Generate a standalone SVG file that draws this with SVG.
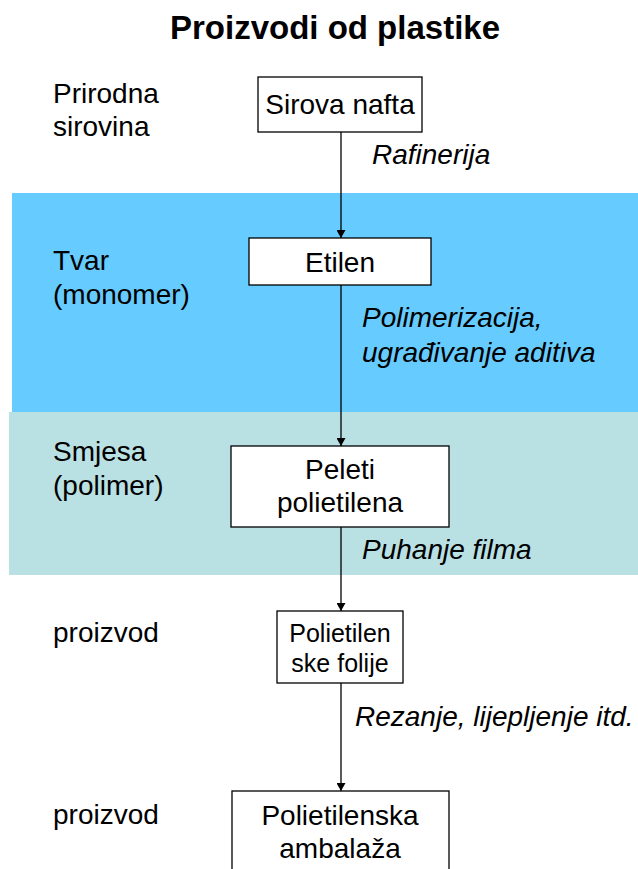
<svg xmlns="http://www.w3.org/2000/svg" width="638" height="869" viewBox="0 0 638 869">
<style>
text{font-family:"Liberation Sans",Arial,sans-serif;fill:#000}
.t{font-size:33px;font-weight:bold}
.l{font-size:28px}
.b{font-size:28px;text-anchor:middle}
.s{font-size:25px;text-anchor:middle}
.i{font-size:28px;font-style:italic}
.box{fill:#fff;stroke:#000;stroke-width:1.3}
.c{stroke:#000;stroke-width:1.3;fill:none}
</style>
<defs>
<marker id="ah" markerWidth="8" markerHeight="9" refX="8" refY="4.5" orient="auto" markerUnits="userSpaceOnUse">
<path d="M0,0 L8,4.5 L0,9 Z" fill="#000"/>
</marker>
</defs>
<rect x="12" y="193" width="626" height="219" fill="#66CCFF"/>
<rect x="9" y="412" width="629" height="163" fill="#B9E0E3"/>
<text class="t" x="335" y="39" text-anchor="middle">Proizvodi od plastike</text>
<g id="labels">
<text class="l" x="53" y="103">Prirodna</text>
<text class="l" x="53" y="136">sirovina</text>
<text class="l" x="53" y="270">Tvar</text>
<text class="l" x="53" y="304">(monomer)</text>
<text class="l" x="53" y="461">Smjesa</text>
<text class="l" x="53" y="495">(polimer)</text>
<text class="l" x="53" y="642">proizvod</text>
<text class="l" x="53" y="824">proizvod</text>
</g>
<g id="connectors">
<line class="c" x1="341" y1="132" x2="341" y2="238" marker-end="url(#ah)"/>
<line class="c" x1="341" y1="285" x2="341" y2="446" marker-end="url(#ah)"/>
<line class="c" x1="341" y1="527" x2="341" y2="611" marker-end="url(#ah)"/>
<line class="c" x1="341" y1="683" x2="341" y2="791" marker-end="url(#ah)"/>
<text class="i" x="372" y="164">Rafinerija</text>
<text class="i" x="362" y="327">Polimerizacija,</text>
<text class="i" x="362" y="362">ugrađivanje aditiva</text>
<text class="i" x="362" y="559">Puhanje filma</text>
<text class="i" x="355" y="726">Rezanje, lijepljenje itd.</text>
</g>
<g id="n1">
<rect class="box" x="258" y="77" width="164" height="55"/>
<text class="b" x="340" y="114">Sirova nafta</text>
</g>
<g id="n2">
<rect class="box" x="249" y="238" width="182" height="47"/>
<text class="b" x="340" y="272">Etilen</text>
</g>
<g id="n3">
<rect class="box" x="231" y="446" width="218" height="81"/>
<text class="b" x="340" y="479">Peleti</text>
<text class="b" x="340" y="512">polietilena</text>
</g>
<g id="n4">
<rect class="box" x="277" y="611" width="126" height="72"/>
<text class="s" x="340" y="642">Polietilen</text>
<text class="s" x="340" y="672">ske folije</text>
</g>
<g id="n5">
<rect class="box" x="232" y="791" width="217" height="90"/>
<text class="b" x="340" y="825">Polietilenska</text>
<text class="b" x="340" y="858">ambalaža</text>
</g>
</svg>
